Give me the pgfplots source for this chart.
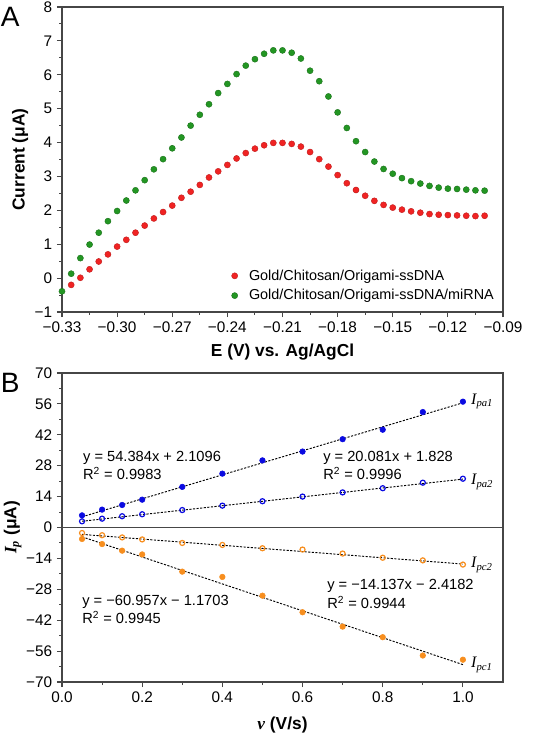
\documentclass[border=0pt]{standalone}
\usepackage{fontspec}
\setmainfont{Liberation Sans}
\newfontfamily\tnr{Liberation Serif}
\usepackage{pgfplots}
\usepackage{pgfplotstable}
\pgfplotsset{compat=1.18}
\definecolor{bred}{RGB}{240,35,35}
\definecolor{bgreen}{RGB}{35,150,35}
\definecolor{mblue}{RGB}{10,10,225}
\definecolor{morange}{RGB}{247,142,30}
\definecolor{frame}{RGB}{70,70,70}

\pgfplotstableread{
x y
-0.325 -0.20
-0.320 0.01
-0.315 0.26
-0.310 0.49
-0.305 0.70
-0.300 0.93
-0.295 1.13
-0.290 1.34
-0.285 1.55
-0.280 1.76
-0.275 1.95
-0.270 2.14
-0.265 2.37
-0.260 2.55
-0.255 2.75
-0.250 2.97
-0.245 3.15
-0.240 3.34
-0.235 3.53
-0.230 3.69
-0.225 3.82
-0.220 3.92
-0.215 3.99
-0.210 3.99
-0.205 3.96
-0.200 3.88
-0.195 3.72
-0.190 3.51
-0.185 3.29
-0.180 3.04
-0.175 2.80
-0.170 2.60
-0.165 2.43
-0.160 2.28
-0.155 2.16
-0.150 2.08
-0.145 2.02
-0.140 1.97
-0.135 1.93
-0.130 1.89
-0.125 1.87
-0.120 1.86
-0.115 1.85
-0.110 1.84
-0.105 1.83
-0.100 1.84
}\redtab

\pgfplotstableread{
x y
-0.330 -0.39
-0.325 0.13
-0.320 0.59
-0.315 0.99
-0.310 1.34
-0.305 1.68
-0.300 1.98
-0.295 2.29
-0.290 2.59
-0.285 2.89
-0.280 3.21
-0.275 3.51
-0.270 3.83
-0.265 4.15
-0.260 4.50
-0.255 4.82
-0.250 5.13
-0.245 5.46
-0.240 5.73
-0.235 6.02
-0.230 6.27
-0.225 6.46
-0.220 6.62
-0.215 6.72
-0.210 6.72
-0.205 6.65
-0.200 6.48
-0.195 6.12
-0.190 5.81
-0.185 5.36
-0.180 4.89
-0.175 4.43
-0.170 4.04
-0.165 3.72
-0.160 3.44
-0.155 3.22
-0.150 3.08
-0.145 2.95
-0.140 2.86
-0.135 2.79
-0.130 2.72
-0.125 2.67
-0.120 2.64
-0.115 2.63
-0.110 2.61
-0.105 2.59
-0.100 2.58
}\greentab

\pgfplotstableread{
v pa1 pa2 pc2 pc1
0.05 5.5 2.8 -2.5 -5.2
0.10 8.1 4.0 -3.5 -7.5
0.15 10.2 5.1 -4.5 -10.5
0.20 12.6 6.0 -5.4 -12.2
0.30 18.4 7.9 -7.0 -20.0
0.40 24.4 9.9 -7.9 -22.4
0.50 30.4 11.9 -9.4 -30.9
0.60 34.4 14.0 -10.0 -38.4
0.70 40.0 15.9 -11.8 -44.9
0.80 44.3 17.8 -13.7 -49.7
0.90 52.3 20.3 -14.9 -58.0
1.00 57.0 22.1 -16.8 -59.9
}\scantab

\pgfplotsset{
  common/.style={
    scale only axis,
    anchor=south west,
    axis line style={frame, line width=0.8pt},
    tick style={frame, line width=0.8pt},
    tick align=outside,
    xtick pos=left, ytick pos=left,
    major tick length=3.8pt,
    minor tick length=2.2pt,
    minor tick num=1,
    tick label style={font=\fontsize{11.5}{13}\selectfont, text=black},
    label style={font=\fontsize{13}{15}\selectfont\bfseries},
  },
  legmark/.style={legend image code/.code={\draw[mark repeat=2, mark phase=2, ##1] plot coordinates {(0cm,0cm) (0cm,0cm) (0cm,0cm)}; \path (0.3cm,0cm);}},
}

\begin{document}
\begin{tikzpicture}
\useasboundingbox (0,0) rectangle (416.25pt,552pt);
\begin{axis}[common,
  at={(46.5pt,318pt)}, width=330.75pt, height=228.75pt,
  xmin=-0.33, xmax=-0.09, ymin=-1, ymax=8,
  xtick={-0.33,-0.30,-0.27,-0.24,-0.21,-0.18,-0.15,-0.12,-0.09},
  xticklabels={−0.33,−0.30,−0.27,−0.24,−0.21,−0.18,−0.15,−0.12,−0.09},
  ytick={-1,0,...,8},
  yticklabels={−1,0,1,2,3,4,5,6,7,8},
  xlabel={E (V) vs. Ag/AgCl},
  ylabel={Current (μA)},
  xlabel style={at={(axis description cs:0.5,-0.131)}, anchor=center},
  ylabel style={at={(axis description cs:-0.095,0.5)}, anchor=center},
  legend style={draw=none, fill=none, at={(0.995,0.015)}, anchor=south east,
    font=\fontsize{10.8}{12}\selectfont, row sep=1.5pt},
  legend cell align=left,
]
\addplot[only marks, legmark, mark=*, mark size=2.3pt, mark options={fill=bred, draw=bred!80!black, line width=0.3pt}] table[x=x,y=y] {\redtab};
\addlegendentry{Gold/Chitosan/Origami-ssDNA}
\addplot[only marks, legmark, mark=*, mark size=2.3pt, mark options={fill=bgreen, draw=bgreen!75!black, line width=0.3pt}] table[x=x,y=y] {\greentab};
\addlegendentry{Gold/Chitosan/Origami-ssDNA/miRNA}
\end{axis}

\begin{axis}[common,
  at={(46.5pt,40.5pt)}, width=330.75pt, height=231.75pt,
  xmin=0, xmax=1.1, ymin=-70, ymax=70,
  xtick={0,0.2,0.4,0.6,0.8,1.0},
  xticklabels={0.0,0.2,0.4,0.6,0.8,1.0},
  ytick={-70,-56,-42,-28,-14,0,14,28,42,56,70},
  yticklabels={−70,−56,−42,−28,−14,0,14,28,42,56,70},
  xlabel={{\tnr\itshape ν} (V/s)},
  ylabel={{\tnr\itshape I\textsubscript{p}} (μA)},
  xlabel style={at={(axis description cs:0.5,-0.139)}, anchor=center},
  ylabel style={at={(axis description cs:-0.112,0.5)}, anchor=center},
  clip=false,
]
\addplot[frame, line width=0.8pt, forget plot] coordinates {(0,0) (1.1,0)};
% fitted lines
\addplot[black, line width=0.7pt, dash pattern=on 1.6pt off 1.1pt] coordinates {(0.05,4.83) (1.0,56.49)};
\addplot[black, line width=0.7pt, dash pattern=on 1.6pt off 1.1pt] coordinates {(0.05,2.83) (1.0,21.91)};
\addplot[black, line width=0.7pt, dash pattern=on 1.6pt off 1.1pt] coordinates {(0.05,-3.12) (1.0,-16.56)};
\addplot[black, line width=0.7pt, dash pattern=on 1.6pt off 1.1pt] coordinates {(0.05,-4.22) (1.0,-62.13)};
% data
\addplot[only marks, mark=*, mark size=2.1pt, mark options={fill=mblue, draw=mblue}] table[x=v,y=pa1] {\scantab};
\addplot[only marks, mark=o, mark size=1.9pt, mark options={draw=mblue, fill=white, line width=0.9pt}] table[x=v,y=pa2] {\scantab};
\addplot[only marks, mark=o, mark size=1.9pt, mark options={draw=morange, fill=white, line width=0.9pt}] table[x=v,y=pc2] {\scantab};
\addplot[only marks, mark=*, mark size=2.1pt, mark options={fill=morange, draw=morange}] table[x=v,y=pc1] {\scantab};
% annotations
\node[anchor=west, align=left, font=\fontsize{11}{14}\selectfont, inner sep=0pt] at (axis cs:0.052,28.1) {y = 54.384x + 2.1096\\R\textsuperscript{2} = 0.9983};
\node[anchor=west, align=left, font=\fontsize{11}{14}\selectfont, inner sep=0pt] at (axis cs:0.651,28.1) {y = 20.081x + 1.828\\R\textsuperscript{2} = 0.9996};
\node[anchor=west, align=left, font=\fontsize{11}{14}\selectfont, inner sep=0pt] at (axis cs:0.661,-30.1) {y = −14.137x − 2.4182\\R\textsuperscript{2} = 0.9944};
\node[anchor=west, align=left, font=\fontsize{11}{14}\selectfont, inner sep=0pt] at (axis cs:0.050,-37.2) {y = −60.957x − 1.1703\\R\textsuperscript{2} = 0.9945};
\node[anchor=west, font=\fontsize{12}{14}\selectfont\tnr\itshape, inner sep=0pt] at (axis cs:1.02,57) {I\textsubscript{pa1}};
\node[anchor=west, font=\fontsize{12}{14}\selectfont\tnr\itshape, inner sep=0pt] at (axis cs:1.02,20.6) {I\textsubscript{pa2}};
\node[anchor=west, font=\fontsize{12}{14}\selectfont\tnr\itshape, inner sep=0pt] at (axis cs:1.02,-17) {I\textsubscript{pc2}};
\node[anchor=west, font=\fontsize{12}{14}\selectfont\tnr\itshape, inner sep=0pt] at (axis cs:1.02,-62.3) {I\textsubscript{pc1}};
\end{axis}
\draw[frame, line width=0.8pt] (46.5pt,40.5pt) rectangle (377.25pt,272.25pt);

\node[anchor=west, inner sep=0pt, font=\fontsize{21}{24}\selectfont] at (0.5pt,539.25pt) {A};
\node[anchor=west, inner sep=0pt, font=\fontsize{21}{24}\selectfont] at (0.5pt,264.75pt) {B};
\end{tikzpicture}
\end{document}
